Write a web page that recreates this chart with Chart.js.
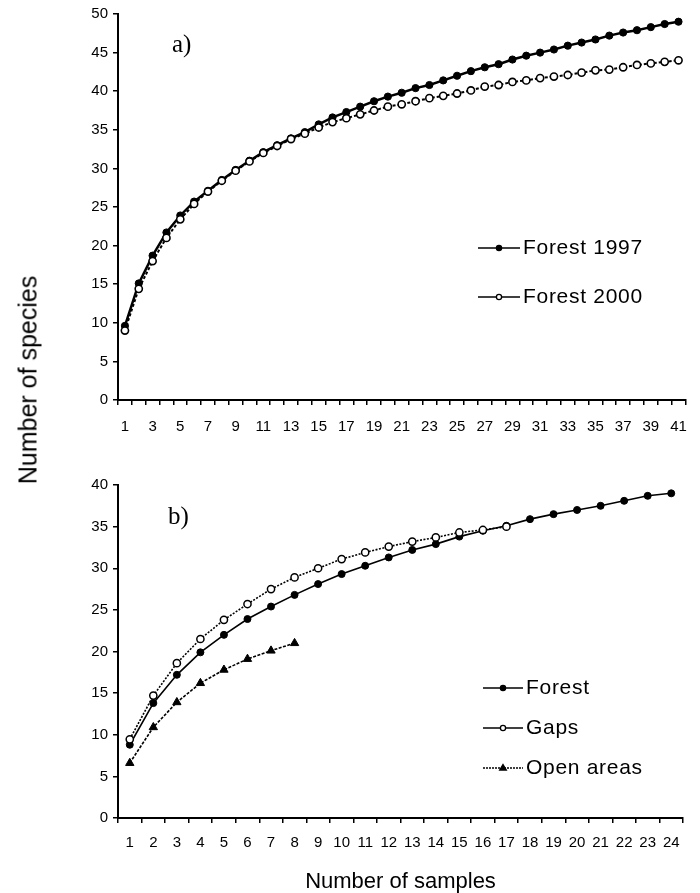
<!DOCTYPE html>
<html>
<head>
<meta charset="utf-8">
<script src="https://cdn.jsdelivr.net/npm/chart.js@4/dist/chart.umd.min.js"></script>
<style>
  body { margin: 0; background: #fff; }
  #wrap { position: relative; width: 700px; height: 893px; }
  #chartA { position: absolute; left: 0; top: 0; }
  #chartB { position: absolute; left: 0; top: 440px; }
  #ytitle {
    position: absolute; left: 28px; top: 380px;
    transform: translate(-50%, -50%) rotate(-90deg);
    font: 25px "Liberation Sans", Arial, sans-serif; white-space: nowrap; color: #000;
  }
</style>
</head>
<body>
<div id="wrap">
  <canvas id="chartA" width="700" height="440"></canvas>
  <canvas id="chartB" width="700" height="453"></canvas>
  <div id="ytitle">Number of species</div>
</div>
<script>
// panel a) - 41 muestras
const samplesA = ['1','2','3','4','5','6','7','8','9','10','11','12','13','14','15','16','17','18','19','20',
  '21','22','23','24','25','26','27','28','29','30','31','32','33','34','35','36','37','38','39','40','41'];
const forest1997 = [9.6, 15.1, 18.7, 21.7, 23.9, 25.7, 27.1, 28.5, 29.8, 31.0, 32.1, 33.0, 33.9, 34.7, 35.7, 36.6,
  37.3, 38.0, 38.7, 39.3, 39.8, 40.4, 40.8, 41.4, 42.0, 42.6, 43.1, 43.5, 44.1, 44.6, 45.0, 45.4, 45.9, 46.3, 46.7,
  47.2, 47.6, 47.9, 48.3, 48.7, 49.0];
const forest2000 = [9.0, 14.4, 18.0, 21.0, 23.4, 25.4, 27.0, 28.4, 29.7, 30.9, 32.0, 32.9, 33.8, 34.5, 35.3, 36.0,
  36.5, 37.0, 37.5, 38.0, 38.3, 38.7, 39.1, 39.4, 39.7, 40.1, 40.6, 40.8, 41.2, 41.4, 41.7, 41.9, 42.1, 42.4, 42.7,
  42.8, 43.1, 43.4, 43.6, 43.8, 44.0];

// panel b) - 24 muestras
const samplesB = ['1','2','3','4','5','6','7','8','9','10','11','12','13','14','15','16','17','18','19','20','21','22','23','24'];
const forestB = [8.8, 13.8, 17.2, 19.9, 22.0, 23.9, 25.4, 26.8, 28.1, 29.3, 30.3, 31.3, 32.2, 32.9, 33.8, 34.5,
  35.1, 35.9, 36.5, 37.0, 37.5, 38.1, 38.7, 39.0];
const gapsB = [9.45, 14.7, 18.6, 21.5, 23.8, 25.7, 27.5, 28.9, 30.0, 31.1, 31.9, 32.6, 33.2, 33.7, 34.3, 34.6, 35.0];
const openB = [6.6, 10.9, 13.9, 16.2, 17.8, 19.1, 20.1, 21.0];

const tickFont = { family: '"Liberation Sans", Arial, sans-serif', size: 15 };

function drawMarker(ctx, style, fill, x, y, r) {
  ctx.beginPath();
  if (style === 'triangle') {
    ctx.moveTo(x, y - r);
    ctx.lineTo(x + r * 0.95, y + r * 0.6);
    ctx.lineTo(x - r * 0.95, y + r * 0.6);
    ctx.closePath();
  } else {
    ctx.arc(x, y, r, 0, Math.PI * 2);
  }
  ctx.fillStyle = fill;
  ctx.fill();
  ctx.lineWidth = 1.3;
  ctx.strokeStyle = '#000';
  ctx.stroke();
}

// leyenda y etiqueta del panel dibujadas a mano
const panelDecor = {
  id: 'panelDecor',
  afterDraw(chart, args, opts) {
    const ctx = chart.ctx;
    ctx.save();
    ctx.fillStyle = '#000';
    ctx.textBaseline = 'middle';
    ctx.font = '25px "Liberation Serif", "Times New Roman", serif';
    ctx.fillText(opts.panel, opts.panelX, opts.panelY);
    ctx.font = '21px "Liberation Sans", Arial, sans-serif';
    ctx.letterSpacing = '0.7px';
    chart.data.datasets.forEach((ds, i) => {
      const y = opts.legendY + i * opts.legendGap;
      ctx.strokeStyle = '#000';
      ctx.lineWidth = 1.5;
      ctx.setLineDash(ds.legendDash || []);
      ctx.beginPath();
      ctx.moveTo(opts.legendX, y);
      ctx.lineTo(opts.legendX + opts.lineLen, y);
      ctx.stroke();
      ctx.setLineDash([]);
      drawMarker(ctx, ds.pointStyle, ds.pointBackgroundColor, opts.legendX + opts.lineLen / 2, y,
        ds.pointStyle === 'triangle' ? 3.5 : 2.6);
      ctx.fillStyle = '#000';
      ctx.fillText(ds.label, opts.legendX + opts.lineLen + 3, y);
    });
    ctx.restore();
  }
};

function makeOptions(yMax, xTitle, labelEvery, xHeight, padding, xPad, decor) {
  return {
    responsive: false,
    animation: false,
    events: [],
    layout: { padding: padding },
    elements: { line: { tension: 0 } },
    plugins: {
      legend: { display: false },
      tooltip: { enabled: false },
      panelDecor: decor
    },
    scales: {
      x: {
        type: 'category',
        offset: true,
        grid: { offset: true, drawOnChartArea: false, drawTicks: true, tickLength: 5, color: '#000', lineWidth: 1.5 },
        border: { color: '#000', width: 2 },
        ticks: {
          autoSkip: false, maxRotation: 0, padding: xPad, color: '#000', font: tickFont,
          callback: function (v, i) { return i % labelEvery === 0 ? this.getLabelForValue(v) : ''; }
        },
        title: {
          display: !!xTitle, text: xTitle, color: '#000', padding: 0,
          font: { family: '"Liberation Sans", Arial, sans-serif', size: 22, lineHeight: 1 }
        },
        afterFit: s => { s.height = xHeight; }
      },
      y: {
        min: 0, max: yMax,
        grid: { drawOnChartArea: false, drawTicks: true, tickLength: 5, color: '#000', lineWidth: 1.5 },
        border: { color: '#000', width: 2 },
        ticks: { stepSize: 5, padding: 5, color: '#000', font: tickFont },
        afterFit: s => { s.width = 118; }
      }
    }
  };
}

new Chart(document.getElementById('chartA').getContext('2d'), {
  type: 'line',
  data: {
    labels: samplesA,
    datasets: [{
      label: 'Forest 1997',
      data: forest1997,
      borderColor: '#000', borderWidth: 2.5,
      pointStyle: 'circle', pointRadius: 3.6,
      pointBackgroundColor: '#000', pointBorderColor: '#000', pointBorderWidth: 1,
      order: 1
    }, {
      label: 'Forest 2000',
      data: forest2000,
      borderColor: '#000', borderWidth: 2, borderDash: [3, 2],
      pointStyle: 'circle', pointRadius: 3.6,
      pointBackgroundColor: '#fff', pointBorderColor: '#000', pointBorderWidth: 1.6,
      order: 0
    }]
  },
  options: makeOptions(50, '', 2, 40, { top: 13, right: 13, left: 0, bottom: 0 }, 13,
    { panel: 'a)', panelX: 172, panelY: 45, legendX: 478, legendY: 248, legendGap: 49, lineLen: 42 }),
  plugins: [panelDecor]
});

new Chart(document.getElementById('chartB').getContext('2d'), {
  type: 'line',
  data: {
    labels: samplesB,
    datasets: [{
      label: 'Forest',
      data: forestB,
      borderColor: '#000', borderWidth: 1.6,
      pointStyle: 'circle', pointRadius: 3.5,
      pointBackgroundColor: '#000', pointBorderColor: '#000', pointBorderWidth: 1,
      order: 1
    }, {
      label: 'Gaps',
      data: gapsB,
      borderColor: '#000', borderWidth: 1.6, borderDash: [2, 1.5],
      pointStyle: 'circle', pointRadius: 3.6,
      pointBackgroundColor: '#fff', pointBorderColor: '#000', pointBorderWidth: 1.5,
      order: 0
    }, {
      label: 'Open areas',
      data: openB,
      borderColor: '#000', borderWidth: 1.6, borderDash: [3, 1.5], legendDash: [2, 1],
      pointStyle: 'triangle', pointRadius: 4.8,
      pointBackgroundColor: '#000', pointBorderColor: '#000', pointBorderWidth: 1,
      order: 2
    }]
  },
  options: makeOptions(40, 'Number of samples', 1, 75, { top: 45, right: 17, left: 0, bottom: 0 }, 11,
    { panel: 'b)', panelX: 168, panelY: 77, legendX: 483, legendY: 248, legendGap: 40, lineLen: 40 }),
  plugins: [panelDecor]
});
</script>
</body>
</html>
